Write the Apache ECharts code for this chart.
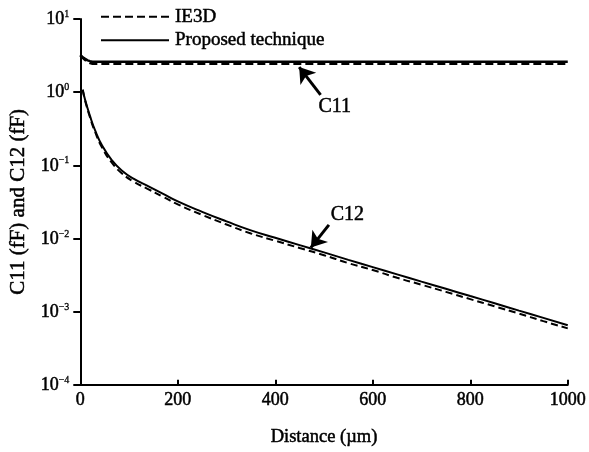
<!DOCTYPE html>
<html>
<head>
<meta charset="utf-8">
<script src="https://cdn.jsdelivr.net/npm/echarts@6/dist/echarts.min.js"></script>
<style>html,body{margin:0;padding:0;background:#fff}#c{width:589px;height:452px}</style>
</head>
<body>
<div id="c"></div>
<script>
// ---- data ----
const c11Distance = [0, 5, 10, 15, 20, 25, 30, 100, 300, 500, 700, 1000];
const c11Proposed = [3.2, 3.0, 2.85, 2.72, 2.65, 2.61, 2.6, 2.6, 2.6, 2.6, 2.6, 2.6];
const c11IE3D     = [3.2, 2.95, 2.75, 2.6, 2.5, 2.45, 2.44, 2.44, 2.44, 2.44, 2.44, 2.44];

const c12Distance = [5, 10, 20, 30, 45, 65, 85, 110, 140, 170, 200, 250, 300, 350, 400, 450, 500, 550, 600, 650, 700, 750, 800, 850, 900, 950, 1000];
const c12Proposed = [1.08, 0.78, 0.47, 0.305, 0.185, 0.117, 0.085, 0.0652, 0.0515, 0.0407, 0.0321, 0.0231, 0.0171, 0.0129, 0.0102, 0.0081, 0.00645, 0.0051, 0.00406, 0.00323, 0.00257, 0.00205, 0.00163, 0.0013, 0.00103, 0.00082, 0.00065];
const c12IE3D     = [1.08, 0.76, 0.45, 0.29, 0.173, 0.108, 0.078, 0.0595, 0.047, 0.037, 0.0292, 0.021, 0.0155, 0.0117, 0.0093, 0.0074, 0.0059, 0.0046, 0.0037, 0.0029, 0.00233, 0.00186, 0.00148, 0.00118, 0.00094, 0.00074, 0.00059];

const xTicks = [0, 200, 400, 600, 800, 1000];
const yExponents = ['1', '0', '\u22121', '\u22122', '\u22123', '\u22124'];
const seriesNames = ['IE3D', 'Proposed technique'];

// annotations (data coordinates): [tailX, tailY, tipX, tipY]
const c11Arrow = [493, 0.92, 449, 2.2];
const c12Arrow = [510, 0.0153, 473, 0.0075];
const c11LabelPos = [522, 0.64];
const c12LabelPos = [548, 0.021];

// ---- build ----
const zip = (xs, ys) => xs.map((x, i) => [x, ys[i]]);
const FONT = 'Liberation Serif';
const TB = { textBorderColor: '#000', textBorderWidth: 0.5 };

const arrowLine = (a) => ({
  silent: true,
  symbol: ['none', 'arrow'],
  symbolSize: 15,
  lineStyle: { color: '#000', width: 3, type: 'solid' },
  itemStyle: { color: '#000' },
  label: { show: false },
  emphasis: { disabled: true },
  data: [[{ coord: [a[0], a[1]] }, { coord: [a[2], a[3]] }]]
});
const textMark = (p, t) => ({
  silent: true,
  symbol: 'circle',
  symbolSize: 0,
  label: Object.assign({ show: true, position: 'inside', formatter: t, color: '#000', fontFamily: FONT, fontSize: 20 }, TB),
  data: [{ coord: p }]
});

const chart = echarts.init(document.getElementById('c'), null, { renderer: 'canvas' });
chart.setOption({
  animation: false,
  backgroundColor: '#fff',
  grid: { left: 80, right: 19, top: 19, bottom: 67, containLabel: false },
  legend: {
    orient: 'vertical',
    left: 95,
    top: 2,
    itemWidth: 68,
    itemHeight: 14,
    itemGap: 4,
    selectedMode: false,
    data: seriesNames,
    itemStyle: { opacity: 0 },
    textStyle: Object.assign({ fontFamily: FONT, fontSize: 19, color: '#000', padding: [0, 0, 0, 1] }, TB)
  },
  xAxis: {
    type: 'value',
    min: 0, max: 1000, interval: 200,
    name: 'Distance (\u00b5m)',
    nameLocation: 'middle',
    nameGap: 43,
    nameTextStyle: Object.assign({ fontFamily: FONT, fontSize: 18.5, color: '#000' }, TB),
    axisLine: { lineStyle: { color: '#000', width: 2 } },
    axisTick: { inside: true, length: 5, lineStyle: { color: '#000', width: 2 } },
    axisLabel: Object.assign({ margin: 7, fontFamily: FONT, fontSize: 18, color: '#000',
      customValues: xTicks, formatter: v => String(v) }, TB),
    splitLine: { show: false }
  },
  yAxis: {
    type: 'log',
    logBase: 10,
    min: 1e-4, max: 10,
    name: 'C11 (fF) and C12 (fF)',
    nameLocation: 'middle',
    nameGap: 46,
    nameTextStyle: Object.assign({ fontFamily: FONT, fontSize: 21, color: '#000' }, TB),
    axisLine: { show: true, lineStyle: { color: '#000', width: 2 } },
    axisTick: { inside: false, length: 7, lineStyle: { color: '#000', width: 2 } },
    minorTick: { show: false },
    axisLabel: {
      margin: 11,
      formatter: (v) => {
        const e = Math.round(Math.log10(v));
        const idx = 1 - e;
        return '{b|10}{s|' + yExponents[idx] + '}';
      },
      rich: {
        b: Object.assign({ fontFamily: FONT, fontSize: 18, color: '#000', verticalAlign: 'bottom' }, TB),
        s: Object.assign({ fontFamily: FONT, fontSize: 10, color: '#000', verticalAlign: 'top', padding: [0, 0, 9, 0] }, { textBorderColor: '#000', textBorderWidth: 0.3 })
      }
    },
    splitLine: { show: false }
  },
  series: [
    {
      name: seriesNames[0], type: 'line', symbol: 'none', smooth: false,
      lineStyle: { color: '#000', width: 2.5, type: [8, 4] },
      itemStyle: { color: '#000' },
      data: zip(c11Distance, c11IE3D), z: 3
    },
    {
      name: seriesNames[1], type: 'line', symbol: 'none', smooth: false,
      lineStyle: { color: '#000', width: 2.5, type: 'solid' },
      itemStyle: { color: '#000' },
      data: zip(c11Distance, c11Proposed), z: 2,
      markLine: arrowLine(c11Arrow),
      markPoint: textMark(c11LabelPos, 'C11')
    },
    {
      name: seriesNames[0], type: 'line', symbol: 'none', smooth: true,
      lineStyle: { color: '#000', width: 2, type: [7, 4] },
      itemStyle: { color: '#000' },
      data: zip(c12Distance, c12IE3D), z: 3
    },
    {
      name: seriesNames[1], type: 'line', symbol: 'none', smooth: true,
      lineStyle: { color: '#000', width: 2, type: 'solid' },
      itemStyle: { color: '#000' },
      data: zip(c12Distance, c12Proposed), z: 2,
      markLine: arrowLine(c12Arrow),
      markPoint: textMark(c12LabelPos, 'C12')
    }
  ]
});
</script>
</body>
</html>
